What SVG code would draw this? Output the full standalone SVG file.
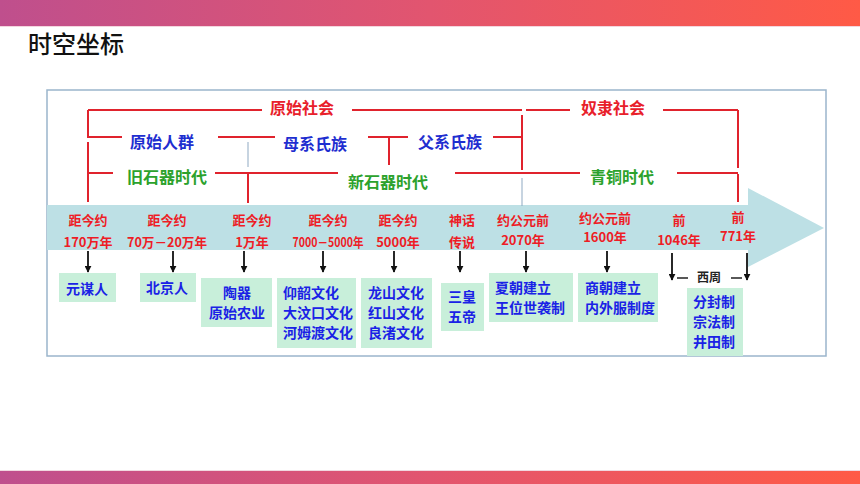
<svg xmlns="http://www.w3.org/2000/svg" width="860" height="484" viewBox="0 0 860 484">
<defs>
<linearGradient id="band" x1="0" y1="0" x2="1" y2="0">
<stop offset="0" stop-color="#bf4f8d"/>
<stop offset="0.5" stop-color="#e2556f"/>
<stop offset="1" stop-color="#ff5a46"/>
</linearGradient>
<marker id="ah" viewBox="0 0 10 10" refX="9" refY="5" markerWidth="7" markerHeight="7" orient="auto" markerUnits="userSpaceOnUse">
<path d="M0,0 L10,5 L0,10 z" fill="#111"/>
</marker>
<style>
.cjk{font-family:"Noto Sans CJK SC","Noto Sans",sans-serif}
.br{stroke:#e0232d;stroke-width:2;fill:none}
.thin{stroke:#8fa9c2;stroke-width:1;fill:none}
.lab{font-family:"Noto Sans CJK SC",sans-serif;font-size:16px;font-weight:bold;text-anchor:middle}
.red{fill:#e8202a}
.blue{fill:#1e2ed0}
.green{fill:#2ca22c}
.tl{font-family:"Noto Sans CJK SC",sans-serif;font-size:13px;font-weight:bold;fill:#ee1c25;text-anchor:middle}
.box{fill:#c8efda}
.bt{font-family:"Noto Sans CJK SC",sans-serif;font-size:14px;font-weight:bold;fill:#1a22e6}
.arr{stroke:#111;stroke-width:1.8;fill:none;marker-end:url(#ah)}
</style>
</defs>
<rect x="0" y="0" width="860" height="484" fill="#ffffff"/>
<rect x="0" y="0" width="860" height="26" fill="url(#band)"/>
<line x1="0" y1="26.5" x2="860" y2="26.5" stroke="#f3d6de" stroke-width="1"/>
<rect x="0" y="471" width="860" height="13" fill="url(#band)"/>
<line x1="0" y1="470.5" x2="860" y2="470.5" stroke="#f0d8e0" stroke-width="1"/>
<text x="28" y="53" class="cjk" font-size="24" font-weight="500" fill="#111">时空坐标</text>

<rect x="47" y="90" width="779" height="266" fill="#ffffff" stroke="#9bb5cc" stroke-width="1.5"/>

<g id="timeline">
<rect x="47" y="205" width="702" height="45" fill="#bde0e5"/>
<polygon points="748,188 824,228 748,267" fill="#bde0e5"/>
</g>

<g id="connectors">
<path class="br" d="M88,110 H262 M352,110 H522 M526,110 H570 M663,110 H738"/>
<path class="br" d="M88,110 V138 M88,142 V202"/>
<path class="br" d="M738,110 V168 M738,174 V202"/>
<path class="br" d="M88,137 H122 M218,137 H275 M368,137 H408 M493,137 H522"/>
<path class="br" d="M389,137 V165 M522,115 V170"/>
<path class="br" d="M88,173 H113 M215,173 H338 M455,173 H580 M677,173 H738"/>
<path class="br" d="M248,173 V203"/>
<path class="thin" d="M248,142 V167 M522,178 V206"/>
<line class="arr" x1="88" y1="251" x2="88" y2="272"/>
<line class="arr" x1="173" y1="251" x2="173" y2="272"/>
<line class="arr" x1="244" y1="251" x2="244" y2="272"/>
<line class="arr" x1="323" y1="251" x2="323" y2="272"/>
<line class="arr" x1="394" y1="251" x2="394" y2="272"/>
<line class="arr" x1="460" y1="251" x2="460" y2="272"/>
<line class="arr" x1="526" y1="251" x2="526" y2="272"/>
<line class="arr" x1="607" y1="251" x2="607" y2="272"/>
<line class="arr" x1="672" y1="253" x2="672" y2="280"/>
<line class="arr" x1="747" y1="253" x2="747" y2="280"/>
<path d="M677,278 H688 M731,278 H742" stroke="#222" stroke-width="1.3"/>
</g>

<g id="period-labels">
<text x="302" y="114" class="lab red">原始社会</text>
<text x="613" y="114" class="lab red">奴隶社会</text>
<text x="162" y="148" class="lab blue">原始人群</text>
<text x="315" y="150" class="lab blue">母系氏族</text>
<text x="450" y="148" class="lab blue">父系氏族</text>
<text x="167" y="183" class="lab green">旧石器时代</text>
<text x="388" y="188" class="lab green">新石器时代</text>
<text x="622" y="183" class="lab green">青铜时代</text>
</g>

<g id="dates">
<text x="88" y="225" class="tl">距今约</text>
<text x="88" y="247" class="tl">170万年</text>
<text x="167" y="225" class="tl">距今约</text>
<text x="167" y="247" class="tl" textLength="80" lengthAdjust="spacingAndGlyphs">70万－20万年</text>
<text x="252" y="225" class="tl">距今约</text>
<text x="252" y="247" class="tl">1万年</text>
<text x="328" y="225" class="tl">距今约</text>
<text x="328" y="247" class="tl" textLength="71" lengthAdjust="spacingAndGlyphs">7000－5000年</text>
<text x="398" y="225" class="tl">距今约</text>
<text x="398" y="247" class="tl">5000年</text>
<text x="462" y="225" class="tl">神话</text>
<text x="462" y="247" class="tl">传说</text>
<text x="523" y="225" class="tl">约公元前</text>
<text x="523" y="245" class="tl">2070年</text>
<text x="605" y="223" class="tl">约公元前</text>
<text x="605" y="242" class="tl">1600年</text>
<text x="679" y="225" class="tl">前</text>
<text x="679" y="245" class="tl">1046年</text>
<text x="738" y="222" class="tl">前</text>
<text x="738" y="241" class="tl">771年</text>
<text x="709" y="282" class="cjk" font-size="12" font-weight="bold" fill="#222" text-anchor="middle">西周</text>
</g>

<g id="n-yuanmou">
<rect x="59" y="273" width="57" height="29" class="box"/>
<text x="87" y="294" class="bt" text-anchor="middle">元谋人</text>
</g>
<g id="n-beijing">
<rect x="140" y="273" width="56" height="29" class="box"/>
<text x="167" y="293" class="bt" text-anchor="middle">北京人</text>
</g>
<g id="n-taoqi">
<rect x="201" y="278" width="71" height="49" class="box"/>
<text x="237" y="298" class="bt" text-anchor="middle">陶器</text>
<text x="237" y="318" class="bt" text-anchor="middle">原始农业</text>
</g>
<g id="n-yangshao">
<rect x="277" y="278" width="79" height="70" class="box"/>
<text x="283" y="298" class="bt">仰韶文化</text>
<text x="283" y="318" class="bt">大汶口文化</text>
<text x="283" y="338" class="bt">河姆渡文化</text>
</g>
<g id="n-longshan">
<rect x="361" y="278" width="71" height="70" class="box"/>
<text x="368" y="298" class="bt">龙山文化</text>
<text x="368" y="318" class="bt">红山文化</text>
<text x="368" y="338" class="bt">良渚文化</text>
</g>
<g id="n-sanhuang">
<rect x="441" y="283" width="43" height="48" class="box"/>
<text x="462" y="302" class="bt" text-anchor="middle">三皇</text>
<text x="462" y="322" class="bt" text-anchor="middle">五帝</text>
</g>
<g id="n-xia">
<rect x="489" y="273" width="84" height="49" class="box"/>
<text x="495" y="293" class="bt">夏朝建立</text>
<text x="495" y="313" class="bt">王位世袭制</text>
</g>
<g id="n-shang">
<rect x="578" y="273" width="80" height="49" class="box"/>
<text x="585" y="293" class="bt">商朝建立</text>
<text x="585" y="313" class="bt">内外服制度</text>
</g>
<g id="n-xizhou">
<rect x="687" y="288" width="56" height="68" class="box"/>
<text x="693" y="307" class="bt">分封制</text>
<text x="693" y="327" class="bt">宗法制</text>
<text x="693" y="347" class="bt">井田制</text>
</g>
</svg>
